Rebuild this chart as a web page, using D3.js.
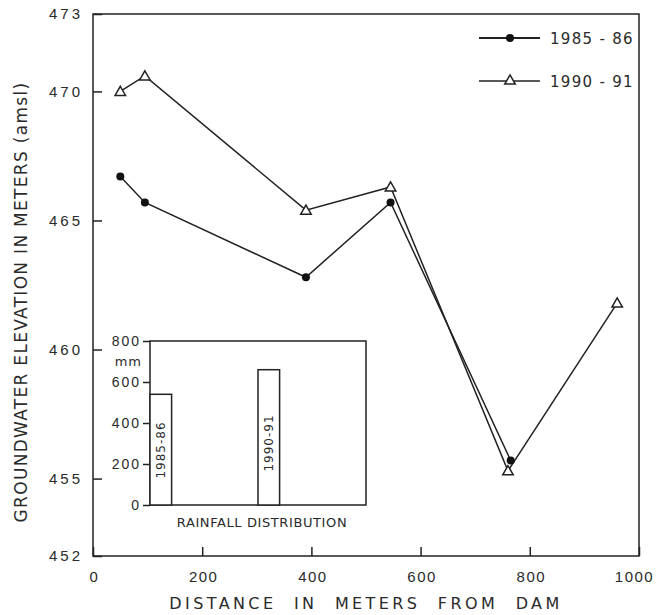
<!DOCTYPE html>
<meta charset="utf-8">
<style>
body { margin: 0; background: #fff; }
svg { font-family: "DejaVu Sans", sans-serif; }
.frame { fill: none; stroke: #222; stroke-width: 1.5px; }
.axis path { display: none; }
.axis line { stroke: #222; stroke-width: 1.5px; }
.axis text { fill: #2a2a2a; }
.series { fill: none; stroke: #222; stroke-width: 1.5px; }
</style>
<svg width="658" height="615"></svg>
<script src="https://cdn.jsdelivr.net/npm/d3@7"></script>
<script>

// groundwater elevation (m amsl) vs distance from dam (m)
var dist8586 = [50, 95, 390, 545, 765];
var elev8586 = [466.7, 465.7, 462.8, 465.7, 455.7];
var dist9091 = [50, 95, 390, 545, 760, 960];
var elev9091 = [470.0, 470.6, 465.4, 466.3, 455.3, 461.8];

var xTicks = [0, 200, 400, 600, 800, 1000];
var yTicks = [452, 455, 460, 465, 470, 473];

// inset: rainfall distribution (mm)
var rainYears = ["1985-86", "1990-91"];
var rainMm = [540, 660];
var rainTicks = [0, 200, 400, 600, 800];

var legendLabels = ["1985 - 86", "1990 - 91"];

var svg = d3.select("svg");

var x = d3.scaleLinear().domain([0, 1000]).range([93, 639]);
var y = d3.scaleLinear().domain([452, 473]).range([556, 14]);

svg.append("rect").attr("class", "frame")
    .attr("x", x(0)).attr("y", y(473))
    .attr("width", x(1000) - x(0)).attr("height", y(452) - y(473));

svg.append("g").attr("class", "axis")
    .attr("transform", "translate(0," + y(452) + ")")
    .call(d3.axisBottom(x).tickValues(xTicks).tickSizeInner(-9).tickSizeOuter(0).tickPadding(15)
      .tickFormat(d3.format("d")))
    .selectAll("text").style("font-size", "15px").style("letter-spacing", "1.5px")
    .attr("dx", function(d) { return d === 1000 ? "-5px" : "1px"; });

svg.append("g").attr("class", "axis")
    .attr("transform", "translate(" + x(0) + ",0)")
    .call(d3.axisLeft(y).tickValues(yTicks).tickSizeInner(-9).tickSizeOuter(0).tickPadding(10))
    .selectAll("text").style("font-size", "15px").style("letter-spacing", "3px");

svg.append("text")
    .attr("x", 366).attr("y", 609)
    .attr("text-anchor", "middle")
    .style("font-size", "16px").style("letter-spacing", "3.4px").style("word-spacing", "9px")
    .style("fill", "#2a2a2a")
    .text("DISTANCE IN METERS FROM DAM");

svg.append("text")
    .attr("transform", "translate(27,302) rotate(-90)")
    .attr("text-anchor", "middle")
    .style("font-size", "17px").style("letter-spacing", "1.3px")
    .style("fill", "#2a2a2a")
    .text("GROUNDWATER ELEVATION IN METERS (amsl)");

// series
var line = d3.line().x(function(d) { return x(d[0]); }).y(function(d) { return y(d[1]); });
var pts8586 = dist8586.map(function(d, i) { return [d, elev8586[i]]; });
var pts9091 = dist9091.map(function(d, i) { return [d, elev9091[i]]; });

svg.append("path").attr("class", "series").attr("d", line(pts8586));
svg.append("path").attr("class", "series").attr("d", line(pts9091));

var tri = d3.symbol().type(d3.symbolTriangle).size(48);

svg.selectAll(".dot").data(pts8586).enter().append("circle")
    .attr("class", "dot")
    .attr("cx", function(d) { return x(d[0]); })
    .attr("cy", function(d) { return y(d[1]); })
    .attr("r", 4).style("fill", "#111");

svg.selectAll(".tri").data(pts9091).enter().append("path")
    .attr("class", "tri")
    .attr("transform", function(d) { return "translate(" + x(d[0]) + "," + (y(d[1]) + 1) + ")"; })
    .attr("d", tri)
    .style("fill", "#fff").style("stroke", "#222").style("stroke-width", 1.5);

// legend
var lg = svg.append("g");
[38, 81].forEach(function(ly, i) {
  lg.append("line").attr("x1", 479).attr("x2", 540).attr("y1", ly).attr("y2", ly)
    .style("stroke", "#222").style("stroke-width", i === 0 ? 2 : 1.5);
  if (i === 0) {
    lg.append("circle").attr("cx", 510).attr("cy", ly).attr("r", 4).style("fill", "#111");
  } else {
    lg.append("path").attr("transform", "translate(510," + ly + ")").attr("d", tri)
      .style("fill", "#fff").style("stroke", "#222").style("stroke-width", 1.5);
  }
  lg.append("text").attr("x", 550).attr("y", ly + 5.5)
    .style("font-size", "15px").style("letter-spacing", "1.3px").style("fill", "#2a2a2a")
    .text(legendLabels[i]);
});

// inset bar chart
var ix = d3.scaleBand().domain(rainYears).range([150, 366])
    .paddingInner(0.8).paddingOuter(0.4).align(0);
var iy = d3.scaleLinear().domain([0, 800]).range([505, 341]);

var inset = svg.append("g");
inset.append("rect").attr("class", "frame")
    .attr("x", 150).attr("y", iy(800)).attr("width", 216).attr("height", iy(0) - iy(800))
    .style("fill", "#fff");

inset.append("g").attr("class", "axis")
    .attr("transform", "translate(150,0)")
    .call(d3.axisLeft(iy).tickValues(rainTicks).tickSize(7).tickPadding(2))
    .selectAll("text").style("font-size", "14px").style("letter-spacing", "2px");

inset.append("text").attr("x", 142).attr("y", 366).attr("text-anchor", "end")
    .style("font-size", "13px").style("letter-spacing", "1px").style("fill", "#2a2a2a").text("mm");

inset.selectAll(".bar").data(rainYears).enter().append("rect")
    .attr("class", "bar")
    .attr("x", function(d) { return ix(d); })
    .attr("y", function(d, i) { return iy(rainMm[i]); })
    .attr("width", ix.bandwidth())
    .attr("height", function(d, i) { return iy(0) - iy(rainMm[i]); })
    .style("fill", "#fff").style("stroke", "#222").style("stroke-width", 1.5);

inset.selectAll(".blabel").data(rainYears).enter().append("text")
    .attr("transform", function(d, i) {
      return "translate(" + (ix(d) + ix.bandwidth() / 2 + 4.5) + "," + (i === 0 ? 450 : 443) + ") rotate(-90)";
    })
    .attr("text-anchor", "middle")
    .style("font-size", "12px").style("letter-spacing", "1px").style("fill", "#2a2a2a")
    .text(function(d) { return d; });

inset.append("text").attr("x", 262).attr("y", 527).attr("text-anchor", "middle")
    .style("font-size", "13px").style("letter-spacing", "0.6px").style("fill", "#2a2a2a")
    .text("RAINFALL DISTRIBUTION");

</script>
